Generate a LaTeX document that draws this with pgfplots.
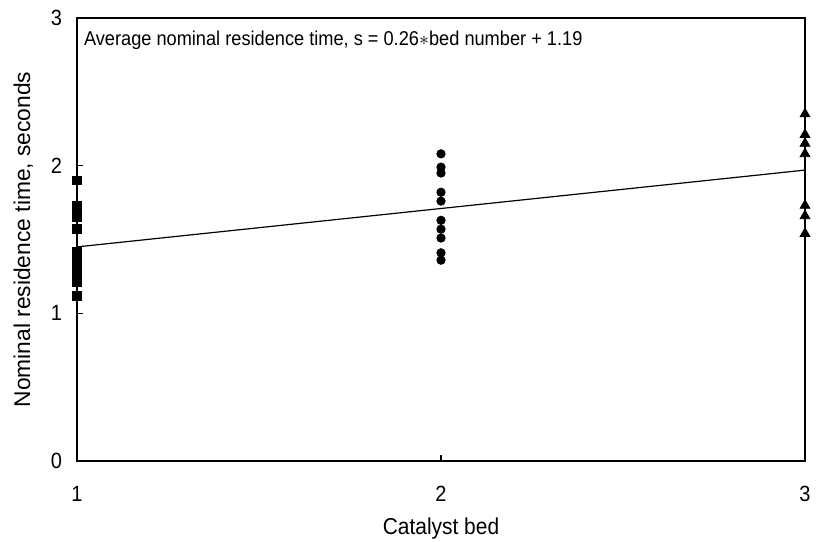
\documentclass[border=0pt]{standalone}
\usepackage{pgfplots}
\pgfplotsset{compat=1.18}
\usepackage{fontspec}
\setmainfont{Liberation Sans}
\newfontfamily\tallfont{Liberation Sans}[FakeStretch=0.91]
\begin{document}
\begin{tikzpicture}
\begin{axis}[
  name=ax,
  scale only axis,
  width=364pt, height=221.5pt,
  xmin=1, xmax=3, ymin=0, ymax=3,
  xtick={1,2,3}, ytick={0,1,2,3},
  tick align=inside,
  xtick pos=bottom, ytick pos=left,
  major tick length=3pt,
  axis line style={line width=0.9pt},
  tick style={line width=0.6pt, black},
  /pgf/number format/assume math mode=true,
  ticklabel style={font=\tallfont\fontsize{11}{12}\selectfont},
  xticklabel style={yshift=-9pt},
  yticklabel style={xshift=-4pt},
  xlabel={Catalyst bed},
  ylabel={Nominal residence time, seconds},
  xlabel style={font=\tallfont\fontsize{11.5}{13}\selectfont, yshift=-1pt},
  ylabel style={font=\fontsize{11.4}{13}\selectfont, yshift=2pt},
  clip=false,
]
\addplot[only marks, mark=square*, mark size=2.2pt, black] coordinates {
(1,1.90) (1,1.73) (1,1.68) (1,1.65) (1,1.57) (1,1.42) (1,1.37) (1,1.30) (1,1.26) (1,1.21) (1,1.12)
};
\addplot[only marks, mark=*, mark size=2.1pt, black] coordinates {
(2,2.08) (2,1.99) (2,1.95) (2,1.82) (2,1.76) (2,1.63) (2,1.57) (2,1.51) (2,1.41) (2,1.36)
};
\addplot[only marks, mark=triangle*, mark size=2.8pt, black] coordinates {
(3,2.35) (3,2.21) (3,2.15) (3,2.08) (3,1.73) (3,1.66) (3,1.54)
};
\addplot[black, line width=0.6pt] coordinates {(1,1.45) (3,1.97)};
\node[anchor=west, font=\tallfont\fontsize{10}{12}\selectfont] at ([xshift=0pt,yshift=-11pt]rel axis cs:0,1) {Average nominal residence time, s = 0.26$*$bed number + 1.19};
\end{axis}
\pgfresetboundingbox
\path[use as bounding box] ([xshift=-38.5pt,yshift=-40pt]ax.south west) rectangle ([xshift=6pt,yshift=9pt]ax.north east);
\end{tikzpicture}
\end{document}
